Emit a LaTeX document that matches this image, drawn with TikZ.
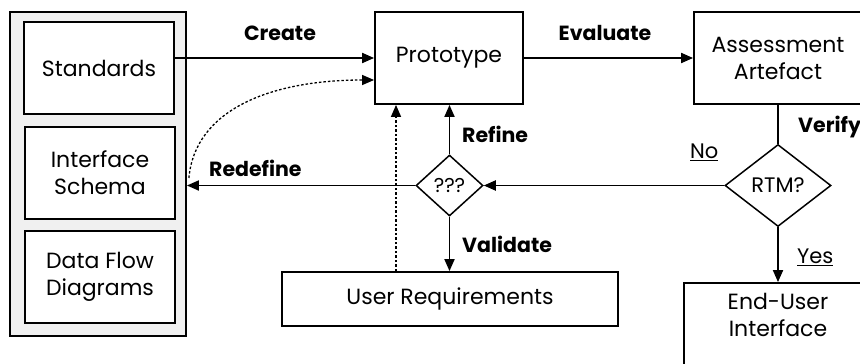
\documentclass[tikz,border=0pt]{standalone}
\usepackage{fontspec}
\setmainfont{Poppins}
\usetikzlibrary{shapes.geometric,arrows.meta,calc}
\begin{document}
\begin{tikzpicture}[x=1pt,y=-1pt,
  box/.style={draw,line width=1.8pt,fill=white,inner sep=0pt,align=center,
    font=\fontsize{22}{27}\selectfont},
  dia/.style={draw,diamond,line width=1.5pt,fill=white,inner sep=0pt,aspect=1.2,
    font=\fontsize{21}{27}\selectfont},
  conn/.style={line width=1.8pt,-{Triangle[length=12pt,width=10pt]}},
  dots/.style={line width=1.3pt,dash pattern=on 2.5pt off 2pt,-{Triangle[length=12pt,width=10pt]}},
  lbl/.style={font=\bfseries\fontsize{20.5}{24}\selectfont,inner sep=0pt},
  ulbl/.style={font=\fontsize{21}{24}\selectfont,inner sep=0pt}
]
\useasboundingbox (0,0) rectangle (860,364);
\begin{scope}
\clip (0,0) rectangle (860,364);
% left panel
\node[box,fill=black!6,minimum width=176pt,minimum height=324pt] (panel) at (98,174) {};
\node[box,minimum width=150pt,minimum height=92pt] (std) at (99,68) {Standards};
\node[box,minimum width=150pt,minimum height=92pt] (ifs) at (100,173) {Interface\\Schema};
\node[box,minimum width=150pt,minimum height=92pt] (dfd) at (100,277) {Data Flow\\Diagrams};
% main
\node[box,minimum width=148pt,minimum height=92pt] (proto) at (449,58) {Prototype};
\node[box,minimum width=168pt,minimum height=92pt] (assess) at (778,58) {Assessment\\Artefact};
\node[dia,minimum width=106pt,minimum height=82pt,font=\fontsize{21}{24}\selectfont] (rtm) at (778,185.5) {RTM?};
\node[dia,minimum width=67pt,minimum height=61pt,font=\fontsize{20}{22}\selectfont] (q) at (449.5,185.5) {???};
\node[box,minimum width=336pt,minimum height=54pt] (ureq) at (450,299) {User Requirements};
\node[box,minimum width=188pt,minimum height=92pt] (eui) at (778,329) {};
\node[font=\fontsize{22}{27}\selectfont,align=center,anchor=north] (euit) at (778,290) {End-User\\Interface};
% connectors
\draw[conn] (std.east |- 0,58) -- (proto.west |- 0,58);
\draw[conn] (proto.east) -- (assess.west |- proto.east);
\draw[line width=1.8pt] (assess.south) -- (rtm.north);
\draw[conn] (rtm.west) -- (q.east);
\draw[conn] (q.north) -- (proto.south -| q.north);
\draw[conn] (q.west) -- (panel.east |- q.west);
\draw[conn] (q.south) -- (ureq.north -| q.south);
\draw[conn] (rtm.south) -- (eui.north);
\coordinate (cs) at ($(panel.east)+(2,4)$);
\draw[dots] (cs) .. controls (195,110) and (270,80) .. (proto.west |- 0,80);
\draw[dots] (ureq.north -| 396,0) -- (proto.south -| 396,0);
% labels
\node[lbl] (lc) at (280,33) {Create};
\node[lbl] (le) at (605,33) {Evaluate};
\node[lbl,anchor=west] (lr) at (462,134) {Refine};
\node[lbl,anchor=west] (lv) at (462,244) {Validate};
\node[lbl,anchor=west] (lrd) at (209,168) {Redefine};
\node[lbl,anchor=west] (lvf) at (798,127) {Verify};
\node[ulbl,anchor=west] (ln) at (690,152) {\underline{No}};
\node[ulbl,anchor=west] (ly) at (797,257) {\underline{Yes}};
\end{scope}
\end{tikzpicture}
\end{document}
